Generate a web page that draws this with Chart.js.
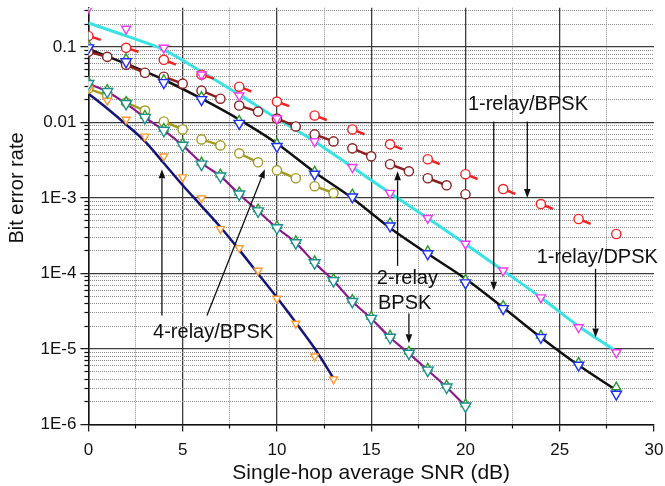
<!DOCTYPE html>
<html>
<head>
<meta charset="utf-8">
<script src="https://cdn.jsdelivr.net/npm/chart.js@4.4.1/dist/chart.umd.min.js"></script>
<style>
  html, body { margin: 0; padding: 0; background: #fff; }
  #wrap { width: 665px; height: 486px; }
</style>
</head>
<body>
<div id="wrap"><canvas id="berChart" width="665" height="486"></canvas></div>
<script>
// SNR points (dB)
var snrEven = [0, 2, 4, 6, 8, 10, 12, 14, 16, 18, 20, 22, 24, 26, 28];
var snrTo20 = [0, 1, 2, 3, 4, 5, 6, 7, 8, 9, 10, 11, 12, 13, 14, 15, 16, 17, 18, 19, 20];
var snrTo13 = [0, 1, 2, 3, 4, 5, 6, 7, 8, 9, 10, 11, 12, 13];

// 1-relay DPSK
var dpsk1Curve = [0.207, 0.1395, 0.0913, 0.0469, 0.0233, 0.01125, 5.6e-3, 2.55e-3, 1.16e-3, 5.4e-4, 2.46e-4, 1.09e-4, 4.8e-5, 2.0e-5, 9.3e-6];
var dpsk1Sim = [0.327, 0.173, 0.097, 0.0428, 0.0226, 0.01125, 5.6e-3, 2.55e-3, 1.16e-3, 5.4e-4, 2.46e-4, 1.09e-4, 4.8e-5, 1.93e-5, 9.0e-6];
var redCircles = [0.1395, 0.097, 0.0674, 0.0428, 0.0297, 0.01885, 0.01233, 8.06e-3, 5.12e-3, 3.25e-3, 2.06e-3, 1.31e-3, 8.3e-4, 5.26e-4, 3.33e-4];

// 1-relay BPSK
var bpsk1Curve = [0.0941, 0.0597, 0.0367, 0.0206, 0.0109, 5.27e-3, 2.19e-3, 9.93e-4, 4.0e-4, 1.82e-4, 8.5e-5, 3.53e-5, 1.42e-5, 6.08e-6, 2.85e-6];
var bpsk1Down = [0.097, 0.0634, 0.0336, 0.02, 9.7e-3, 4.8e-3, 2.06e-3, 1.03e-3, 4.25e-4, 1.82e-4, 7.5e-5, 3.42e-5, 1.42e-5, 6.1e-6, 2.52e-6];
var bpsk1Up = [0.106, 0.0695, 0.0367, 0.0219, 0.0106, 5.27e-3, 2.25e-3, 1.12e-3, 4.66e-4, 1.99e-4, 8.26e-5, 3.75e-5, 1.51e-5, 6.65e-6, 3.12e-6];
var maroonCircles = [0.086, 0.0738, 0.0579, 0.0454, 0.0402, 0.0326, 0.0263, 0.0206, 0.0167, 0.0139, 0.01125, 8.83e-3, 6.93e-3, 5.6e-3, 4.53e-3, 3.55e-3, 2.79e-3, 2.25e-3, 1.82e-3, 1.47e-3, 1.12e-3];

// 2-relay BPSK
var bpsk2Curve = [0.0326, 0.0255, 0.01774, 0.01161, 7.82e-3, 4.96e-3, 2.9e-3, 1.94e-3, 1.12e-3, 6.7e-4, 4.0e-4, 2.54e-4, 1.38e-4, 8.0e-5, 4.24e-5, 2.53e-5, 1.42e-5, 8.75e-6, 5.22e-6, 3.12e-6, 1.75e-6];
var bpsk2Down = [0.0326, 0.0255, 0.01774, 0.01161, 7.82e-3, 4.96e-3, 2.79e-3, 1.94e-3, 1.12e-3, 6.7e-4, 4.0e-4, 2.54e-4, 1.38e-4, 8.0e-5, 4.24e-5, 2.53e-5, 1.42e-5, 8.75e-6, 5.22e-6, 3.12e-6, 1.75e-6];
var bpsk2Up = [0.0347, 0.0271, 0.01886, 0.01234, 8.31e-3, 5.27e-3, 2.97e-3, 2.06e-3, 1.19e-3, 7.12e-4, 4.25e-4, 2.7e-4, 1.47e-4, 8.5e-5, 4.51e-5, 2.69e-5, 1.51e-5, 9.3e-6, 5.55e-6, 3.32e-6, 1.86e-6];
var oliveCircles = [0.028, 0.0226, 0.0183, 0.01435, 0.01028, 8.06e-3, 5.95e-3, 4.96e-3, 3.89e-3, 2.96e-3, 2.32e-3, 1.82e-3, 1.43e-3, 1.16e-3];

// 4-relay BPSK
var bpsk4Curve = [0.024, 0.01524, 9.38e-3, 5.6e-3, 2.88e-3, 1.47e-3, 7.8e-4, 4.12e-4, 2.05e-4, 9.9e-5, 4.79e-5, 2.24e-5, 1.02e-5, 4.1e-6];
var bpsk4Sim = [0.028, 0.01945, 0.0109, 6.52e-3, 3.55e-3, 1.88e-3, 9.93e-4, 3.88e-4, 2.18e-4, 1.09e-4, 4.65e-5, 2.17e-5, 8.0e-6, 3.98e-6];

// axes
var xMajor = [0, 5, 10, 15, 20, 25, 30];
var xMinor = [2.5, 7.5, 12.5, 17.5, 22.5, 27.5];
var yMajor = [1e-6, 1e-5, 1e-4, 1e-3, 0.01, 0.1];
var yMinor = [2e-6, 3e-6, 4e-6, 5e-6, 6e-6, 7e-6, 8e-6, 9e-6,
              2e-5, 3e-5, 4e-5, 5e-5, 6e-5, 7e-5, 8e-5, 9e-5,
              2e-4, 3e-4, 4e-4, 5e-4, 6e-4, 7e-4, 8e-4, 9e-4,
              2e-3, 3e-3, 4e-3, 5e-3, 6e-3, 7e-3, 8e-3, 9e-3,
              0.02, 0.03, 0.04, 0.05, 0.06, 0.07, 0.08, 0.09,
              0.2, 0.3];
var yTitle = 'Bit error rate';

// annotations (data coordinates)
var noteText = ['1-relay/BPSK', '1-relay/DPSK', '2-relay', 'BPSK', '4-relay/BPSK'];
var noteX = [20.13, 23.78, 15.3, 15.36, 3.43];
var noteY = [1.72e-2, 1.61e-4, 8.5e-5, 3.99e-5, 1.66e-5];
var arrowFromX = [21.5, 23.28, 26.9, 16.4, 17.0, 3.9, 6.29];
var arrowFromY = [1.03e-2, 1.03e-2, 1.15e-4, 1.26e-4, 2.94e-5, 2.77e-5, 2.77e-5];
var arrowToX = [21.5, 23.28, 26.9, 16.4, 17.0, 3.9, 9.36];
var arrowToY = [5.9e-5, 1.0e-3, 1.42e-5, 2.25e-3, 1.19e-5, 2.4e-3, 2.4e-3];

var FONT = '"Liberation Sans", Arial, Helvetica, sans-serif';
Chart.defaults.font.family = FONT;
Chart.defaults.color = '#111';

function pts(xs, ys) {
    return xs.map(function (x, i) { return { x: x, y: ys[i] }; });
}

function curve(xs, ys, color, width) {
    return {
        data: pts(xs, ys), borderColor: color, borderWidth: width,
        pointRadius: 0, cubicInterpolationMode: 'monotone', order: 20
    };
}

function marks(xs, ys, color, style, rot, r, ord) {
    return {
        data: pts(xs, ys), showLine: false, pointStyle: style, rotation: rot,
        pointRadius: r, pointBorderColor: color, pointBackgroundColor: '#fff',
        pointBorderWidth: 1.4, order: ord
    };
}

// circles joined two by two: o-o  o-o
function pairedCircles(xs, ys, color) {
    return {
        data: pts(xs, ys), borderColor: color, borderWidth: 2.5, order: 8,
        pointStyle: 'circle', pointRadius: 4.6, pointBorderColor: color,
        pointBackgroundColor: '#fff', pointBorderWidth: 1.4,
        segment: {
            borderColor: function (c) { return c.p0DataIndex % 2 === 0 ? color : 'rgba(0,0,0,0)'; }
        }
    };
}

// circles with a short tail toward the next point
var tailed = {
    data: pts(snrEven, redCircles), borderColor: '#f42222', borderWidth: 2.5, order: 8,
    borderDash: [0, 4, 9, 3000],
    pointStyle: 'circle', pointRadius: 4.6, pointBorderColor: '#f42222',
    pointBackgroundColor: '#fff', pointBorderWidth: 1.4,
    segment: {
        borderDashOffset: function (c) { return c.p0DataIndex * 0.001; }
    }
};

var datasets = [
    marks(snrEven, dpsk1Sim, '#f03cf0', 'triangle', 180, 5.3, 3),
    curve(snrEven, dpsk1Curve, '#3ae3e3', 3),
    tailed,
    pairedCircles(snrTo20, maroonCircles, '#8c1f1f'),
    marks(snrEven, bpsk1Down, '#2030f2', 'triangle', 180, 6, 4),
    marks(snrEven, bpsk1Up, '#2a9a2a', 'triangle', 0, 5, 5),
    curve(snrEven, bpsk1Curve, '#111', 2.5),
    pairedCircles(snrTo13, oliveCircles, '#a39b22'),
    marks(snrTo20, bpsk2Down, '#1a9090', 'triangle', 180, 6.3, 4),
    marks(snrTo20, bpsk2Up, '#2a9a2a', 'triangle', 0, 5, 5),
    curve(snrTo20, bpsk2Curve, '#8a1a8a', 2.2),
    marks(snrTo13, bpsk4Sim, '#ff9a30', 'triangle', 180, 4.6, 4),
    curve(snrTo13, bpsk4Curve, '#14147a', 2.5)
];

function setTicks(list) {
    return function (s) { s.ticks = list.map(function (v) { return { value: v }; }); };
}

// fixed box sizes so the plot area lands where the original has it
function fixSize(w, h) {
    return function (s) {
        if (w !== null) s.width = w;
        if (h !== null) s.height = h;
        s.paddingTop = 0; s.paddingBottom = 0; s.paddingLeft = 0; s.paddingRight = 0;
    };
}

var notesPlugin = {
    id: 'notes',
    afterDatasetsDraw: function (chart) {
        var ctx = chart.ctx, xs = chart.scales.x, ys = chart.scales.y;
        ctx.save();
        ctx.strokeStyle = '#111';
        ctx.fillStyle = '#111';
        ctx.lineWidth = 1.3;
        for (var i = 0; i < arrowFromX.length; i++) {
            var x1 = xs.getPixelForValue(arrowFromX[i]), y1 = ys.getPixelForValue(arrowFromY[i]);
            var x2 = xs.getPixelForValue(arrowToX[i]), y2 = ys.getPixelForValue(arrowToY[i]);
            var a = Math.atan2(y2 - y1, x2 - x1);
            var hl = 9, hw = 3.3;
            var bx = x2 - hl * Math.cos(a), by = y2 - hl * Math.sin(a);
            ctx.beginPath();
            ctx.moveTo(x1, y1);
            ctx.lineTo(bx, by);
            ctx.stroke();
            ctx.beginPath();
            ctx.moveTo(x2, y2);
            ctx.lineTo(bx + hw * Math.sin(a), by - hw * Math.cos(a));
            ctx.lineTo(bx - hw * Math.sin(a), by + hw * Math.cos(a));
            ctx.closePath();
            ctx.fill();
        }
        ctx.font = '20px ' + FONT;
        ctx.textAlign = 'left';
        ctx.textBaseline = 'middle';
        for (var j = 0; j < noteText.length; j++) {
            ctx.fillText(noteText[j], xs.getPixelForValue(noteX[j]), ys.getPixelForValue(noteY[j]));
        }
        // y axis title sits a bit above the middle of the axis in the original
        ctx.translate(ys.left + 17.5, 188);
        ctx.rotate(-Math.PI / 2);
        ctx.textAlign = 'center';
        ctx.fillText(yTitle, 0, 0);
        ctx.restore();
    }
};

new Chart(document.getElementById('berChart'), {
    type: 'line',
    data: { datasets: datasets },
    plugins: [notesPlugin],
    options: {
        responsive: false,
        animation: false,
        devicePixelRatio: 1,
        layout: { padding: { top: 5, right: 11, left: 0, bottom: 0 } },
        plugins: { legend: { display: false }, tooltip: { enabled: false } },
        elements: { line: { tension: 0 } },
        scales: {
            x: {
                type: 'linear', min: 0, max: 30, position: 'bottom', weight: 1,
                afterBuildTicks: setTicks(xMajor),
                afterFit: fixSize(null, 61.5),
                ticks: { font: { size: 17 }, color: '#111', padding: 9, maxRotation: 0, autoSkip: false },
                grid: {
                    color: function (c) { return c.tick && c.tick.value === 30 ? 'rgba(0,0,0,0)' : '#3c3c3c'; },
                    lineWidth: 1.3, tickLength: 7, tickColor: '#111', tickWidth: 1.2
                },
                border: { display: true, color: '#111', width: 1.5 },
                title: { display: true, text: 'Single-hop average SNR (dB)', font: { size: 21 }, color: '#111', padding: { top: 0, bottom: 0 } }
            },
            x2: {
                type: 'linear', min: 0, max: 30, position: 'bottom', weight: 0,
                afterBuildTicks: setTicks(xMinor),
                afterFit: fixSize(null, 0),
                ticks: { display: false, autoSkip: false },
                grid: { color: '#8a8a8a', lineWidth: 1, tickLength: 4, tickColor: '#111', tickWidth: 1.2 },
                border: { display: false, dash: [1, 1] }
            },
            y: {
                type: 'logarithmic', min: 1e-6, max: 0.33, position: 'left', weight: 1,
                afterBuildTicks: setTicks(yMajor),
                afterFit: fixSize(88.4, null),
                ticks: {
                    font: { size: 17 }, color: '#111', padding: 4, autoSkip: false,
                    callback: function (v) { return v >= 0.01 ? String(v) : '1E' + Math.round(Math.log10(v)); }
                },
                grid: { color: '#3c3c3c', lineWidth: 1.3, tickLength: 8, tickColor: '#111', tickWidth: 1.2 },
                border: { display: true, color: '#111', width: 1.5 },
                title: { display: false }
            },
            y2: {
                type: 'logarithmic', min: 1e-6, max: 0.33, position: 'left', weight: 0,
                afterBuildTicks: setTicks(yMinor),
                afterFit: fixSize(0, null),
                ticks: { display: false, autoSkip: false },
                grid: { color: '#8a8a8a', lineWidth: 1, tickLength: 4, tickColor: '#111', tickWidth: 1.2 },
                border: { display: false, dash: [1, 1] }
            }
        }
    }
});
</script>
</body>
</html>
